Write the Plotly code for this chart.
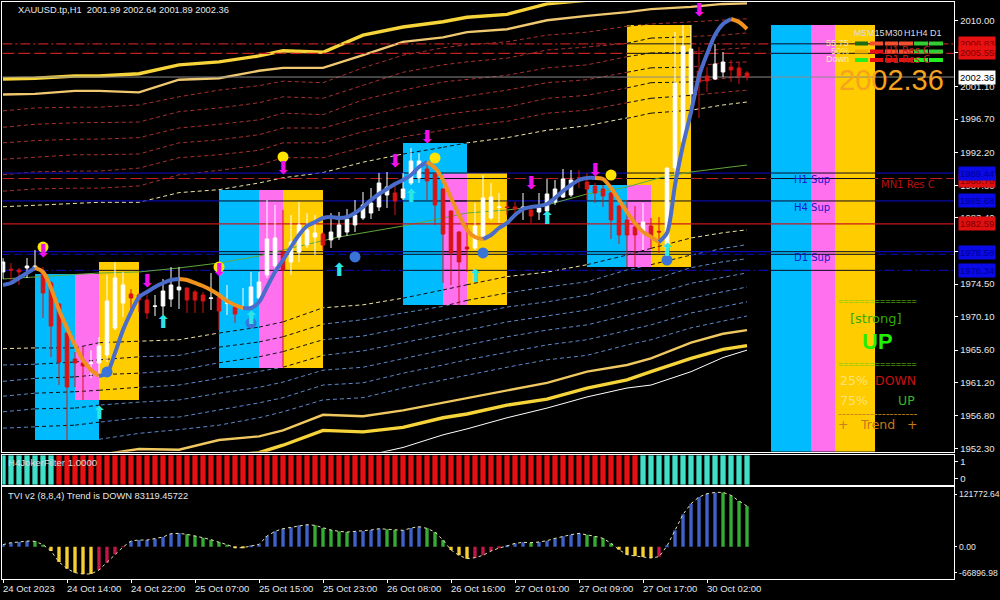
import plotly.graph_objects as go

# ---------- candles (bar index 0..93) ----------
opens = [1976.12,1976.50,1976.39,1976.66,1976.52,1976.12,1974.64,1971.81,1967.91,1964.41,1963.87,1963.80,1963.87,1964.95,1968.58,1971.94,1973.16,1973.02,1972.35,1971.50,
 1971.54,1972.48,1973.70,1973.97,1973.43,1973.02,1972.55,1972.75,1971.90,1971.41,1971.20,1971.41,1972.62,1975.72,1976.93,1978.81,1977.47,1978.81,1979.75,1980.83,
 1981.23,1980.43,1980.83,1981.50,1982.45,1983.39,1984.06,1984.87,1986.48,1986.75,1986.08,1988.10,1988.77,1989.98,1989.31,1987.29,1984.33,1981.50,1979.48,1979.35,
 1980.83,1983.39,1984.80,1984.87,1984.87,1984.60,1984.46,1984.19,1984.33,1985.54,1986.21,1986.48,1988.80,1988.23,1987.69,1987.29,1986.75,1985.00,1983.12,1982.18,
 1981.37,1982.31,1981.60,1979.35,1990.12,1993.62,2000.08,2003.17,2002.50,2002.10,2003.04,2003.71,2003.58,2002.90]
highs = [1978.00,1977.33,1976.66,1978.00,1979.08,1976.79,1974.90,1971.90,1968.00,1965.35,1966.02,1965.62,1967.37,1975.72,1977.47,1976.12,1973.83,1973.29,1973.02,1973.02,
 1975.18,1976.79,1976.79,1974.00,1973.70,1973.43,1975.98,1972.89,1974.37,1971.68,1973.97,1976.12,1976.12,1985.81,1985.14,1984.46,1983.79,1985.54,1984.06,1983.79,
 1981.50,1984.06,1984.19,1984.60,1985.81,1986.89,1987.43,1989.44,1989.58,1988.23,1989.44,1992.81,1992.14,1990.93,1989.44,1987.40,1984.40,1981.60,1982.45,1985.41,
 1989.17,1988.10,1986.75,1985.54,1985.54,1986.75,1984.87,1986.75,1988.64,1988.50,1989.98,1989.85,1989.85,1989.44,1988.10,1987.83,1986.90,1985.10,1985.81,1985.00,
 1985.41,1983.39,1983.52,1990.20,2008.42,2009.37,2009.37,2006.40,2003.71,2006.81,2005.73,2004.65,2004.38,2003.17]
lows = [1975.18,1974.37,1974.37,1975.31,1976.39,1969.93,1964.68,1960.91,1953.51,1960.64,1958.89,1961.85,1961.99,1964.00,1968.31,1970.06,1971.00,1970.73,1969.79,1970.19,
 1970.33,1971.41,1971.14,1970.60,1970.60,1970.60,1971.00,1968.31,1970.33,1969.25,1971.00,1971.00,1972.35,1975.31,1976.39,1963.33,1975.72,1977.47,1979.35,1978.41,
 1979.08,1979.35,1980.43,1980.96,1981.50,1983.12,1983.25,1984.33,1984.73,1983.79,1985.81,1987.83,1988.10,1985.81,1982.45,1974.64,1974.37,1971.68,1976.12,1979.08,
 1980.43,1983.12,1982.71,1983.79,1983.79,1983.12,1982.71,1983.12,1984.06,1985.14,1986.08,1986.21,1987.43,1985.81,1985.41,1984.87,1980.56,1979.89,1976.79,1976.79,
 1979.08,1979.21,1978.68,1977.47,1989.17,1993.21,1998.60,1996.85,2000.35,2001.96,2002.37,2001.69,2001.42,2001.89]
closes = [1977.47,1976.39,1976.12,1976.93,1976.93,1973.29,1968.85,1964.00,1960.64,1963.87,1963.47,1963.87,1966.16,1972.21,1975.31,1974.37,1972.62,1972.35,1970.60,1971.54,
 1973.56,1974.37,1974.10,1972.35,1972.35,1972.21,1972.62,1970.87,1971.94,1970.46,1971.27,1974.10,1974.77,1980.56,1980.70,1976.39,1980.16,1982.45,1981.77,1981.37,
 1979.75,1981.50,1982.45,1983.25,1983.79,1985.14,1985.41,1988.10,1987.56,1985.68,1987.29,1991.06,1991.06,1988.37,1985.14,1981.23,1978.68,1977.47,1979.21,1982.31,
 1986.08,1986.21,1984.87,1984.80,1984.60,1984.87,1983.66,1984.73,1986.62,1987.29,1988.64,1988.50,1988.77,1987.29,1986.75,1986.35,1983.12,1981.10,1981.10,1981.10,
 1982.85,1980.83,1981.50,1990.12,2001.56,2006.54,2006.13,2001.69,2001.83,2004.11,2004.38,2003.31,2002.50,2002.36]

# ---------- envelope bands, read at these bar indices ----------
band_idx = [0,4,9,12,17,22,27,32,35,40,45,50,55,58,63,68,73,78,81,86,90,93]
band_01 = [2002.1,2002.2,2002.5,2002.5,2002.8,2004.0,2004.4,2005.2,2005.9,2005.7,2008.0,2009.1,2009.8,2010.4,2010.8,2012.2,2012.7,2013.0,2013.3,2013.4,2013.4,2013.5]
band_02 = [2000.0,2000.1,2000.5,2000.5,2000.3,2002.0,2002.2,2003.2,2003.6,2003.6,2005.3,2007.1,2007.7,2008.4,2008.8,2010.0,2010.6,2011.1,2011.5,2011.8,2012.2,2012.3]
band_03 = [1997.8,1998.2,1998.3,1998.3,1998.6,1999.7,2000.6,2001.2,2001.8,2001.6,2003.6,2005.3,2006.3,2006.7,2007.1,2008.0,2008.4,2009.2,2009.5,2009.8,2010.0,2010.2]
band_04 = [1995.6,1996.0,1996.2,1996.2,1996.3,1997.7,1998.2,1998.9,1999.7,1999.5,2001.3,2003.0,2004.0,2004.4,2004.9,2006.0,2006.4,2006.9,2007.6,2007.8,2008.0,2008.3]
band_05 = [1993.5,1993.8,1994.0,1994.0,1994.2,1995.5,1996.0,1996.6,1997.5,1997.3,1999.3,2000.6,2001.7,2002.0,2002.6,2003.6,2004.0,2005.1,2005.6,2005.7,2006.1,2006.3]
band_06 = [1991.3,1991.6,1991.9,1991.9,1992.0,1993.5,1993.9,1994.6,1995.5,1995.5,1997.0,1998.3,1999.3,1999.8,2000.6,2001.6,2002.0,2003.0,2003.6,2003.7,2004.3,2004.4]
band_07 = [1989.2,1989.6,1989.7,1989.7,1990.1,1991.5,1991.9,1992.5,1993.5,1993.5,1995.0,1996.2,1997.3,1997.7,1998.3,1999.5,1999.9,2000.9,2001.6,2001.7,2002.2,2002.5]
band_08 = [1987.0,1987.3,1987.4,1987.4,1987.7,1989.2,1989.8,1990.5,1991.5,1991.5,1992.9,1994.3,1995.2,1995.8,1996.4,1997.5,1997.9,1998.9,1999.5,1999.9,2000.3,2000.6]
band_09 = [1984.9,1985.1,1985.4,1985.5,1985.5,1986.8,1987.2,1988.1,1988.8,1989.5,1990.9,1992.0,1992.9,1993.5,1994.2,1995.2,1995.8,1996.8,1997.5,1997.9,1998.6,1999.0]
band_10 = [1965.8,1965.9,1965.9,1966.6,1966.8,1967.0,1967.9,1968.7,1969.4,1971.3,1971.7,1972.6,1973.7,1974.4,1975.5,1976.1,1977.1,1978.4,1979.3,1980.7,1981.4,1981.8]
band_11 = [1963.6,1963.7,1964.0,1964.3,1964.7,1964.9,1966.0,1966.7,1967.4,1969.1,1969.7,1970.6,1971.5,1972.3,1973.3,1974.1,1974.8,1976.4,1977.1,1978.4,1979.3,1979.8]
band_12 = [1961.4,1961.8,1962.0,1962.3,1962.5,1962.9,1963.9,1964.7,1965.4,1967.0,1967.5,1968.6,1969.7,1970.3,1971.4,1972.1,1973.0,1974.4,1975.0,1976.7,1977.5,1977.9]
band_13 = [1959.4,1959.8,1960.0,1960.2,1960.6,1960.9,1961.8,1962.7,1963.3,1964.9,1965.5,1966.6,1967.6,1968.3,1969.4,1970.2,1971.0,1972.3,1973.0,1974.6,1975.4,1976.0]
band_14 = [1957.3,1957.7,1957.8,1958.2,1958.6,1958.9,1959.8,1960.6,1961.3,1962.9,1963.3,1964.5,1965.6,1966.3,1967.4,1968.3,1969.0,1970.3,1971.0,1972.6,1973.4,1974.1]
band_15 = [1955.1,1955.3,1955.5,1955.9,1956.5,1956.6,1957.5,1958.5,1959.2,1960.9,1961.2,1962.5,1963.6,1964.3,1965.3,1966.3,1967.0,1968.3,1969.0,1970.6,1971.5,1972.1]
band_16 = [None,None,None,1953.6,1954.4,1954.9,1955.5,1956.5,1957.3,1958.9,1959.2,1960.5,1961.6,1962.3,1963.3,1964.3,1964.9,1966.3,1967.0,1968.6,1969.5,1970.2]
band_17 = [1950.5,1950.8,1951.1,1951.5,1952.3,1952.2,1953.5,1954.0,1954.8,1956.9,1956.7,1957.5,1958.5,1959.2,1960.2,1961.2,1962.7,1963.6,1964.5,1966.6,1967.8,1968.3]
band_18 = [1949.5,1949.7,1950.0,1950.1,1950.5,1950.8,1951.3,1951.8,1952.8,1954.8,1954.6,1955.2,1956.5,1957.0,1958.2,1959.0,1960.5,1961.6,1962.7,1964.5,1965.7,1966.2]
band_19 = [None]*10 + [1951.3,1952.5,1954.2,1955.0,1956.5,1957.8,1959.3,1960.5,1960.9,1962.7,1964.6,1965.6]

ma_idx = [0,8,12,17,22,27,32,35,40,42,50,58,63,68,73,78,82,86,90,93]
ma_val = [1975.18,1975.72,1975.98,1976.12,1976.66,1977.33,1978.27,1979.08,1980.29,1980.83,1982.31,1984.06,1984.46,1985.14,1986.62,1987.56,1988.77,1989.58,1990.12,1990.52]

# ---------- smooth trend line ----------
trend = [1974.37,1974.64,1975.31,1975.98,1976.66,1976.12,1973.97,1971.00,1968.58,1966.29,1964.27,1962.93,1962.12,1962.52,1965.21,1968.31,1970.73,1972.75,1973.43,1974.10,
 1974.64,1975.04,1975.18,1975.04,1974.64,1974.23,1973.70,1973.02,1972.21,1971.68,1971.27,1971.27,1972.08,1974.10,1976.12,1977.73,1979.48,1981.10,1982.31,1982.85,
 1983.39,1983.52,1983.39,1983.52,1984.06,1984.87,1985.81,1986.62,1987.29,1987.96,1988.50,1989.17,1990.25,1990.93,1990.12,1988.50,1986.08,1983.79,1981.77,1980.83,
 1980.56,1981.10,1982.04,1982.71,1983.79,1984.60,1984.87,1985.00,1985.27,1986.08,1987.02,1987.83,1988.50,1988.77,1988.77,1988.64,1987.43,1985.81,1984.19,1982.71,
 1981.50,1980.83,1980.16,1981.37,1987.83,1993.21,1997.65,2002.50,2005.46,2008.02,2009.50,2010.17,2009.77,2008.83]
trend_breaks = [0,4,12,22,30,53,60,74,82,91,93]

# ---------- coloured blocks: (colour, first bar, last bar, top price, bottom price) ----------
block_colors = ["#00BCFF","#FF70EE","#FFCC00","#00BCFF","#FF70EE","#FFCC00","#00BCFF","#FF70EE","#FFCC00","#00BCFF","#FFCC00","#FF70EE","#00BCFF","#FF70EE","#FFCC00"]
block_from = [4,9,12,27,32,35,50,55,58,73,78,78,96,101,104]
block_to = [12,12,17,32,35,40,58,58,63,78,86,81,101,104,109]
block_top = [1975.85,1975.85,1977.47,1987.16,1987.16,1987.16,1993.48,1989.38,1989.38,1987.83,2009.37,1987.83,2009.37,2009.37,2009.37]
block_bottom = [1953.51,1958.89,1958.89,1963.20,1963.20,1963.20,1971.68,1971.68,1971.68,1976.79,1976.79,1976.79,1951.93,1951.93,1951.93]

# ---------- horizontal levels ----------
level_price = [2006.83,2005.55,1989.44,1988.70,1985.68,1978.85,1978.50,1976.34]
level_color = ["#B82020","#C02020","#0A0AA8","#C02020","#0A0AA8","#0A0AB8","#0A0A90","#0A0AA0"]
level_dash = ["10px,3px,2px,3px","12px,4px","solid","12px,4px","solid","solid","8px,4px","10px,3px,2px,3px"]
close_level = 2002.36
res_level = 1982.59

# ---------- markers ----------
yellow_i = [5,27,35,54,76]
yellow_p = [1979.48,1976.79,1991.60,1991.46,1989.17]
round_i = [13,31,44,60,83]
round_p = [1962.66,1969.25,1978.14,1978.68,1977.73]
down_i = [5,18,27,35,49,53,66,74,87]
down_p = [1978.68,1974.77,1976.12,1989.85,1990.79,1994.15,1987.83,1989.58,2011.20]
up_i = [12,20,31,42,51,59,68,83]
up_p = [1956.87,1969.12,1969.66,1976.12,1986.08,1975.31,1983.12,1978.81]

# ---------- lower panels ----------
joker_colors = ["#40E0C8"]*7 + ["#E81010"]*73 + ["#40E0C8"]*14
tvi = [4100,8200,9560,11600,10930,4100,-8880,-31400,-45100,-53300,-56000,-56000,-47800,-32800,-15700,-700,11600,13660,13660,16400,
 19800,26600,27300,25300,22500,18400,14300,9560,4100,-2000,-2000,1400,4800,21900,31400,36900,39600,43700,45100,43700,
 38200,34150,31400,30050,31400,32100,34150,36900,35500,34150,33470,38250,41000,37570,30050,13660,-6830,-17760,-24590,-22540,
 -17760,-8880,-2730,1370,6830,8880,8200,9560,12300,17080,21170,24590,27320,24590,21170,17080,6830,-6150,-16390,-19120,
 -21170,-23220,-20490,1370,33470,66250,88100,101770,108600,111330,111330,105180,93570,83119]
BL,GR,YE,CR = "#3F62C8","#35AD35","#F6D030","#C01848"
tvi_colors = [BL]*4+[GR]*2+[YE]*6+[CR]*4+[BL]*7+[GR]*6+[YE]*2+[BL]*8+[GR]*5+[BL]*4+[GR]*2+[BL]*3+[GR]*3+[YE]*3+[CR]*4+[BL]*3+[GR]+[BL]*6+[GR]*4+[YE]*5+[CR]+[BL]*7+[GR]*4

main_ticks = [2010.00,2005.60,2001.10,1996.70,1992.20,1987.80,1983.40,1978.90,1974.50,1970.10,1965.60,1961.20,1956.80,1952.30]
time_ticks = [0,8,16,24,32,40,48,56,64,72,80,88]
time_labels = ["24 Oct 2023","24 Oct 14:00","24 Oct 22:00","25 Oct 07:00","25 Oct 15:00","25 Oct 23:00","26 Oct 08:00","26 Oct 16:00","27 Oct 01:00","27 Oct 09:00","27 Oct 17:00","30 Oct 02:00"]
tf_labels = ["M5","M15","M30","H1","H4","D1"]
tf_row1 = ["#1F6B14","#F45030","#F45030","#F45030","#33CC33","#33CC33"]
tf_row2 = ["#F0B000","#E81010","#F45030","#F45030","#33CC33","#33CC33"]
tf_row3 = ["#22EE22","#E81010","#E81010","#E81010","#22EE22","#22EE22"]

XR = [-0.0875,118.91]
YR = [1951.93,2012.42]
FONT = "Liberation Sans"
fig = go.Figure()

def inside(a,b,val):
    for f,t,top,bot in zip(block_from,block_to,block_top,block_bottom):
        if f<=a and b<=t and bot<=val<=top:
            return True
    return False

# layer 1: colour lines under the blocks
red_b = "#A83030"; blue_b = "#5C88C8"; pale = "#EEE6A0"
band_style = [(band_01,"#F6D43A",3.4,"solid"),(band_02,"#F0C870",2.4,"solid"),
 (band_03,red_b,1,"4px,3px"),(band_04,red_b,1,"4px,3px"),(band_05,red_b,1,"4px,3px"),(band_06,red_b,1,"4px,3px"),(band_07,red_b,1,"4px,3px"),(band_08,red_b,1,"4px,3px"),
 (band_09,pale,1,"4px,3px"),(band_10,pale,1,"4px,3px"),
 (band_11,blue_b,1,"4px,3px"),(band_12,blue_b,1,"4px,3px"),(band_13,blue_b,1,"4px,3px"),(band_14,blue_b,1,"4px,3px"),(band_15,blue_b,1,"4px,3px"),(band_16,blue_b,1,"4px,3px"),
 (band_17,"#F0C860",2.4,"solid"),(band_18,"#F6D43A",3.4,"solid"),(band_19,"#FFFFFF",1,"solid")]
for vals,c,w,d in band_style:
    fig.add_trace(go.Scatter(x=band_idx,y=vals,mode="lines",line=dict(color=c,width=w,dash=d),xaxis="x",yaxis="y",hoverinfo="skip"))
for p,c,d in zip(level_price,level_color,level_dash):
    fig.add_trace(go.Scatter(x=[XR[0],XR[1]],y=[p,p],mode="lines",line=dict(color=c,width=1.2,dash=d),xaxis="x",yaxis="y",hoverinfo="skip"))

# layer 2: blocks, dark strokes over them
for c,f,t,top,bot in zip(block_colors,block_from,block_to,block_top,block_bottom):
    fig.add_trace(go.Bar(x=[(f+t)/2],y=[top-bot],base=[bot],width=[t-f],marker=dict(color=c,line=dict(width=0)),xaxis="x4",yaxis="y4",hoverinfo="skip"))
for vals,c,w,d in band_style[2:16]:
    xs,ys=[],[]
    for k in range(len(band_idx)-1):
        a,b=vals[k],vals[k+1]
        if a is None or b is None:
            continue
        if inside(band_idx[k],band_idx[k+1],(a+b)/2):
            xs+=[band_idx[k],band_idx[k+1],None]; ys+=[a,b,None]
    fig.add_trace(go.Scatter(x=xs,y=ys,mode="lines",line=dict(color="#101010",width=1,dash="4px,3px"),xaxis="x4",yaxis="y4",hoverinfo="skip"))
xs,ys=[],[]
for p in level_price:
    for f,t,top,bot in zip(block_from,block_to,block_top,block_bottom):
        if bot<=p<=top:
            xs+=[f,t,None]; ys+=[p,p,None]
fig.add_trace(go.Scatter(x=xs,y=ys,mode="lines",line=dict(color="#0A0A20",width=1),xaxis="x4",yaxis="y4",hoverinfo="skip"))
fig.add_trace(go.Scatter(x=ma_idx,y=ma_val,mode="lines",line=dict(color="#5FA83C",width=1),xaxis="x4",yaxis="y4",hoverinfo="skip"))
fig.add_trace(go.Scatter(x=[XR[0],XR[1]],y=[close_level,close_level],mode="lines",line=dict(color="#8A8A8A",width=1),xaxis="x4",yaxis="y4",hoverinfo="skip"))
fig.add_trace(go.Scatter(x=[XR[0],XR[1]],y=[res_level,res_level],mode="lines",line=dict(color="#C81818",width=1.2),xaxis="x4",yaxis="y4",hoverinfo="skip"))

# layer 3: candles, trend, markers
fig.add_trace(go.Candlestick(x=list(range(len(opens))),open=opens,high=highs,low=lows,close=closes,xaxis="x5",yaxis="y5",
    increasing=dict(line=dict(color="#FFFFFF",width=1),fillcolor="#FFFFFF"),
    decreasing=dict(line=dict(color="#D81414",width=1),fillcolor="#D81414"),whiskerwidth=0,hoverinfo="skip"))
colors=["#4A6CCB","#F0921E"]
for n in range(len(trend_breaks)-1):
    a,b=trend_breaks[n],trend_breaks[n+1]
    fig.add_trace(go.Scatter(x=list(range(a,b+1)),y=trend[a:b+1],mode="lines",line=dict(color=colors[n%2],width=4,shape="spline",smoothing=0.8),xaxis="x5",yaxis="y5",hoverinfo="skip"))
fig.add_trace(go.Scatter(x=yellow_i,y=yellow_p,mode="markers",marker=dict(color="#FFE400",size=11,line=dict(width=0)),xaxis="x5",yaxis="y5",hoverinfo="skip"))
fig.add_trace(go.Scatter(x=round_i,y=round_p,mode="markers",marker=dict(color="#3A74D8",size=11,line=dict(width=0)),xaxis="x5",yaxis="y5",hoverinfo="skip"))
for ix,pr,col,glyph in [(down_i,down_p,"#F010E8","\u2b07"),(up_i,up_p,"#2CE6E6","\u2b06")]:
    fig.add_trace(go.Scatter(x=ix,y=pr,mode="text",text=[glyph]*len(ix),textposition="middle center",textfont=dict(family="DejaVu Sans",size=18,color=col),xaxis="x5",yaxis="y5",hoverinfo="skip"))

# lower panels
fig.add_trace(go.Bar(x=list(range(len(joker_colors))),y=[1.73]*len(joker_colors),base=[-0.35]*len(joker_colors),width=0.66,marker=dict(color=joker_colors,line=dict(width=0)),xaxis="x2",yaxis="y2",hoverinfo="skip"))
fig.add_trace(go.Bar(x=list(range(len(tvi))),y=tvi,width=0.42,marker=dict(color=tvi_colors,line=dict(width=0)),xaxis="x3",yaxis="y3",hoverinfo="skip"))
fig.add_trace(go.Scatter(x=list(range(len(tvi))),y=tvi,mode="lines",line=dict(color="#E8E2B0",width=1,dash="3px,3px"),xaxis="x3",yaxis="y3",hoverinfo="skip"))

def px_x(v): return v/1000
def px_y(v): return 1-v/600
ann=[]
def text(t,x,y,size,color,anchor="left",family=FONT,bg=None,pad=0):
    a=dict(text=t,x=px_x(x),y=px_y(y),xref="paper",yref="paper",xanchor=anchor,yanchor="middle",showarrow=False,
        font=dict(family=family,size=size,color=color),borderpad=pad)
    if bg: a["bgcolor"]=bg
    ann.append(a)

LIGHT="#E6E6E6"
text("XAUUSD.tp,H1  2001.99 2002.64 2001.89 2002.36",17,10.5,9.3,LIGHT)
text("H4JokerFilter 1.0000",7,463,9.6,"#DDDDDD")
text("TVI v2 (8,8,4) Trend is DOWN 83119.45722",7,496,9.3,LIGHT)
for i,l in zip(time_ticks,time_labels):
    text(l,2+8*i,588.5,9.5,LIGHT)
# price labels on the right margin
for val,y,bg,fg in [("1988.70",180,"#E01010","#7A0000"),("2006.83",43.5,"#E81010","#800000"),("2005.55",52.5,"#E81010","#800000"),
    ("1989.44",173,"#0A0AE8","#000090"),("1985.68",200.5,"#0A0AE8","#000090"),("1982.59",224,"#E01010","#7A0000"),
    ("1978.58",253,"#0A0AE8","#000090"),("1976.34",270,"#0A0AE8","#000090"),("2002.36",77.5,"#FFFFFF","#000000")]:
    text(val,958,y,9.5,fg,bg=bg,pad=1)
# block captions
SIDE="DejaVu Sans"
text("H1 Sup",812,179,10,"#1818D0","center",SIDE)
text("H4 Sup",812,207.5,10,"#1818D0","center",SIDE)
text("D1 Sup",812,258,10,"#1818D0","center",SIDE)
text("MN1 Res C",908,184.5,10,"#B81010","center",SIDE)
text("H1 Res C",907,50,10,"#C02020","center",SIDE)
text("D1 Res C",907,60,10,"#C02020","center",SIDE)
for lbl,x in zip(tf_labels,[860,876,894,910,922,936]):
    text(lbl,x,33,9,"#DDDDDD","center")
for lbl,y,c in [("55.75",43,"#FFE9A0"),("50%",51,"#FFE9A0"),("Down",59,"#FFEFC0")]:
    text(lbl,850,y,9,c,"right")
text("2002.36",891,80,29,"#F5A21E","center")
text("===============",877,301.5,9,"#66CC11","center")
text("===============",877,363.5,9,"#66CC11","center")
text("[strong]",876,318,13,"#33AA00","center",SIDE)
text("<b>UP</b>",877,341,22,"#22F000","center")
text("25%",854,380,12.5,"#FFE27A","center",SIDE)
text("DOWN",895,380,12.5,"#C81010","center",SIDE)
text("75%",854,400,12.5,"#FFE27A","center",SIDE)
text("UP",906,400,12.5,"#33BB22","center",SIDE)
text("--------------------",877,414,11,"#C88020","center",SIDE)
text("+",843,424,12.5,"#C88020","center",SIDE)
text("Trend",877,424,12.5,"#C87818","center",SIDE)
text("+",912,424,12.5,"#C87818","center",SIDE)

# timeframe table cells
cols=[(855,868),(870,883),(885,898),(899,913),(914,928),(929,943)]
shapes=[]
for row,y in [(tf_row1,43.5),(tf_row2,51.5),(tf_row3,60)]:
    for (x0,x1),c in zip(cols,row):
        shapes.append(dict(type="rect",xref="paper",yref="paper",x0=px_x(x0),x1=px_x(x1),y0=px_y(y+2),y1=px_y(y-2),fillcolor=c,line=dict(width=0),layer="above"))

axis_common=dict(showgrid=False,zeroline=False,showline=True,mirror=True,linecolor="#FFFFFF",linewidth=1,automargin=False)
DX=[0.0023,0.9543]
tick_font=dict(family=FONT,size=9.5,color=LIGHT)
small_tick_font=dict(family=FONT,size=8.6,color=LIGHT)
hidden=dict(visible=False,showgrid=False,zeroline=False,fixedrange=True,automargin=False)
fig.update_layout(
    width=1000,height=600,margin=dict(l=0,r=0,t=0,b=0),paper_bgcolor="#000000",plot_bgcolor="#000000",
    showlegend=False,barmode="overlay",boxgap=0.36,annotations=ann,shapes=shapes,hovermode=False,
    xaxis=dict(domain=DX,range=XR,anchor="y",showticklabels=False,ticks="",**axis_common),
    yaxis=dict(domain=[px_y(451.7),px_y(2.3)],range=YR,anchor="x",side="right",tickmode="array",tickvals=main_ticks,ticktext=["%.2f"%t for t in main_ticks],ticks="outside",ticklen=3,tickcolor="#FFFFFF",tickfont=tick_font,**axis_common),
    xaxis4=dict(overlaying="x",range=XR,anchor="y4",**hidden),
    yaxis4=dict(overlaying="y",range=YR,anchor="x4",**hidden),
    xaxis5=dict(overlaying="x",range=XR,anchor="y5",rangeslider=dict(visible=False),**hidden),
    yaxis5=dict(overlaying="y",range=YR,anchor="x5",**hidden),
    xaxis2=dict(domain=DX,range=XR,anchor="y2",showticklabels=False,ticks="",**axis_common),
    yaxis2=dict(domain=[px_y(484.7),px_y(455.3)],range=[-0.353,1.376],anchor="x2",side="right",tickmode="array",tickvals=[1,0],ticktext=["1","0"],ticks="outside",ticklen=3,tickcolor="#FFFFFF",tickfont=tick_font,**axis_common),
    xaxis3=dict(domain=DX,range=XR,anchor="y3",tickmode="array",tickvals=time_ticks,ticktext=[""]*len(time_ticks),ticks="outside",ticklen=3,tickcolor="#FFFFFF",**axis_common),
    yaxis3=dict(domain=[px_y(579.3),px_y(487.3)],range=[-66896.98,121772.64],anchor="x3",side="right",tickmode="array",tickvals=[107400,0,-53360],ticktext=["121772.64","0.00","-66896.98"],ticks="outside",ticklen=2,tickcolor="#FFFFFF",tickfont=small_tick_font,**axis_common),
)
fig.write_html("out.html",post_script="document.documentElement.style.margin='0';document.documentElement.style.overflow='hidden';document.body.style.margin='0';document.body.style.overflow='hidden';document.body.style.background='#000';",config=dict(displayModeBar=False))
